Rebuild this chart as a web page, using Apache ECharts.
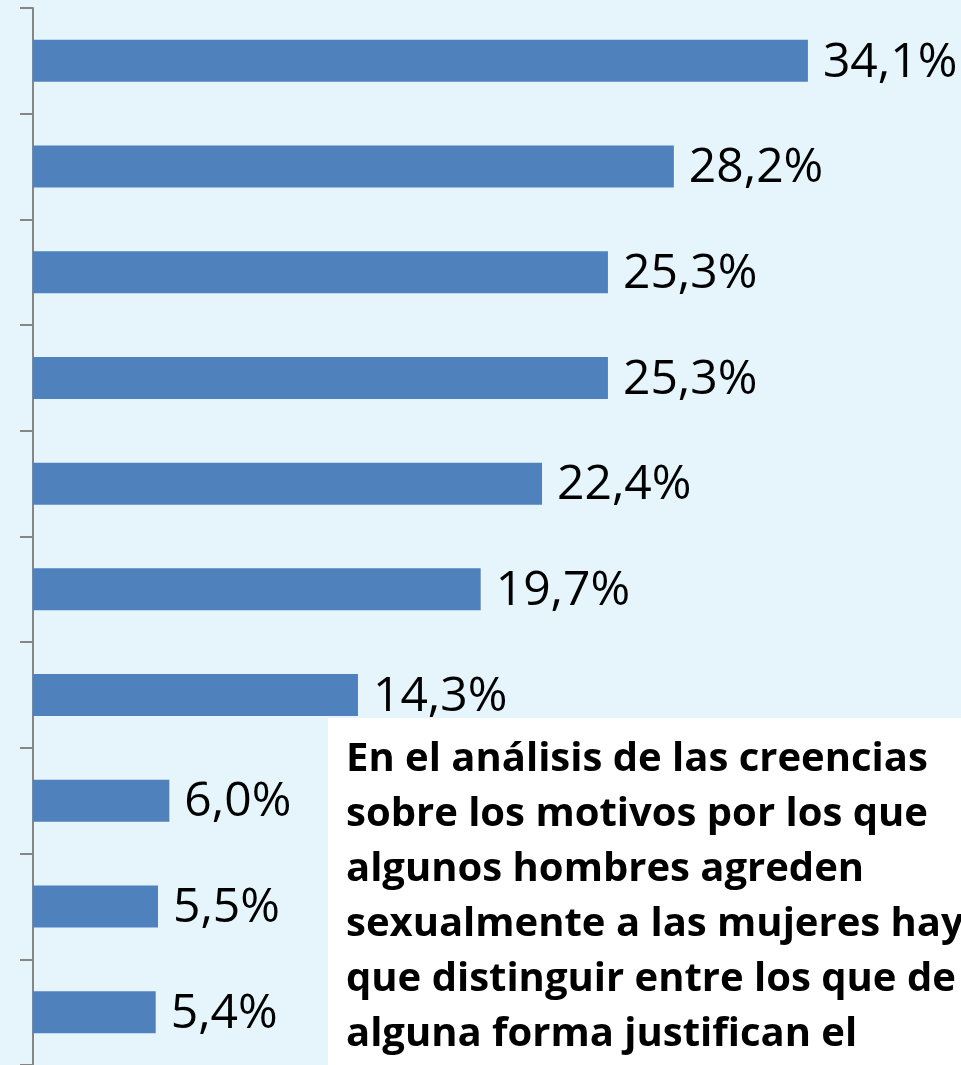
<!DOCTYPE html>
<html>
<head>
<meta charset="utf-8">
<script src="https://cdn.jsdelivr.net/npm/echarts@6/dist/echarts.min.js"></script>
<style>
  html, body { margin: 0; padding: 0; background: #e6f5fc; }
  #chart { width: 961px; height: 1065px; }
</style>
</head>
<body>
<div id="chart"></div>
<script>
// categories are cut off in the source picture, only their order is known
const categories = ['C1', 'C2', 'C3', 'C4', 'C5', 'C6', 'C7', 'C8', 'C9', 'C10']
const values = [34.1, 28.2, 25.3, 25.3, 22.4, 19.7, 14.3, 6.0, 5.5, 5.4]
const noteLines = [
  'En el análisis de las creencias',
  'sobre los motivos por los que',
  'algunos hombres agreden',
  'sexualmente a las mujeres hay',
  'que distinguir entre los que de',
  'alguna forma justifican el'
]

const chart = echarts.init(document.getElementById('chart'))

const fmt = v => v.toFixed(1).replace('.', ',') + '%'

chart.setOption({
  backgroundColor: '#e6f5fc',
  animation: false,
  grid: { left: 33, top: 8, width: 909, height: 1060 },
  xAxis: {
    type: 'value',
    min: 0,
    max: 40,
    show: false
  },
  yAxis: {
    type: 'category',
    data: categories,
    inverse: true,
    axisLine: { show: true, lineStyle: { color: '#868686', width: 2 } },
    axisTick: { show: true, length: 13, lineStyle: { color: '#868686', width: 2 } },
    axisLabel: { show: false },
    splitLine: { show: false }
  },
  series: [{
    type: 'bar',
    data: values,
    barWidth: 42,
    itemStyle: { color: '#4f81bd' },
    label: {
      show: true,
      position: 'right',
      distance: 15,
      offset: [0, 2],
      color: '#000',
      fontFamily: 'Open Sans',
      fontSize: 48,
      formatter: p => fmt(p.value)
    }
  }],
  graphic: [
    {
      type: 'rect',
      z: 100,
      shape: { x: 328, y: 718, width: 640, height: 360 },
      style: { fill: '#ffffff' }
    },
    {
      type: 'text',
      z: 101,
      x: 346,
      y: 732,
      style: {
        text: noteLines.join('\n'),
        fill: '#000',
        fontFamily: 'Open Sans',
        fontWeight: 'bold',
        fontSize: 40,
        lineHeight: 55
      }
    }
  ]
})
</script>
</body>
</html>
